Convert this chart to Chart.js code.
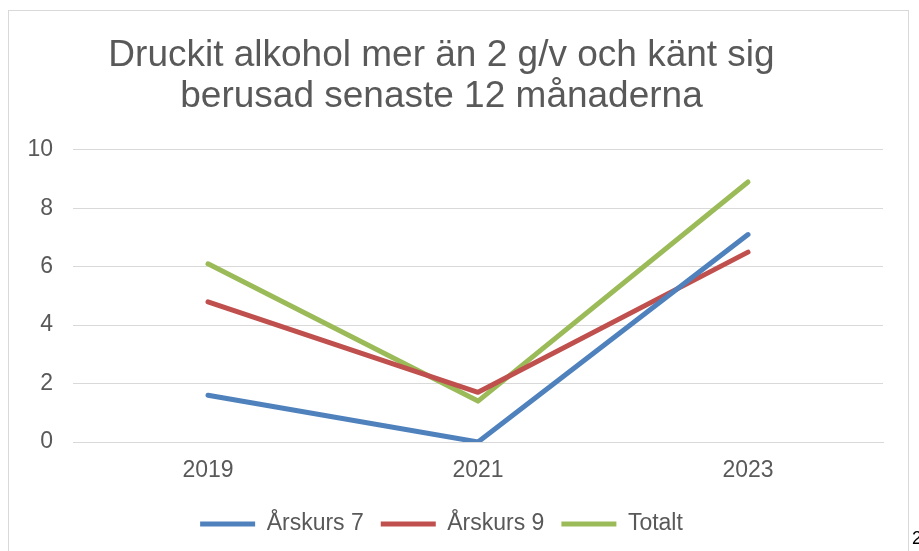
<!DOCTYPE html>
<html>
<head>
<meta charset="utf-8">
<script src="https://cdn.jsdelivr.net/npm/chart.js@4"></script>
<style>
  html, body { margin: 0; padding: 0; background: #fff; overflow: hidden; }
  body { width: 919px; height: 551px; position: relative; }
  .frame { position: absolute; left: 8px; top: 10px; width: 901px; height: 560px; border: 1px solid #d9d9d9; box-sizing: border-box; }
  .wrap { position: absolute; left: 0; top: 0; width: 919px; height: 551px; }
  .pageno { position: absolute; left: 912px; top: 528px; font: 18px "Liberation Sans", Arial, sans-serif; color: #000; }
</style>
</head>
<body>
<div class="frame"></div>
<div class="wrap"><canvas id="chart"></canvas></div>
<div class="pageno">2</div>
<script>
// Data
const years = ['2019', '2021', '2023'];
const arskurs7 = [1.6, 0, 7.1];
const arskurs9 = [4.8, 1.7, 6.5];
const totalt = [6.1, 1.4, 8.9];
const titleLines = ['Druckit alkohol mer än 2 g/v och känt sig', 'berusad senaste 12 månaderna'];

const textColor = '#595959';
const fontFamily = '"Liberation Sans", Arial, sans-serif';

function lineSet(label, data, color) {
    return {
        label: label,
        data: data,
        borderColor: color,
        backgroundColor: color,
        borderWidth: 5,
        borderCapStyle: 'round',
        borderJoinStyle: 'round',
        pointRadius: 0,
        pointHoverRadius: 0,
        tension: 0,
        fill: false
    };
}

document.addEventListener('DOMContentLoaded', function() {
    const ctx = document.getElementById('chart').getContext('2d');
    new Chart(ctx, {
        type: 'line',
        data: {
            labels: years,
            datasets: [
                lineSet('Årskurs 7', arskurs7, '#4f81bd'),
                lineSet('Årskurs 9', arskurs9, '#c0504d'),
                lineSet('Totalt', totalt, '#9bbb59')
            ]
        },
        options: {
            responsive: true,
            maintainAspectRatio: false,
            animation: false,
            layout: {
                padding: { left: 0, right: 36, top: 0, bottom: 5.5 }
            },
            plugins: {
                title: {
                    display: true,
                    text: titleLines,
                    color: textColor,
                    font: { family: fontFamily, size: 37, weight: 'normal', lineHeight: 1.12 },
                    padding: { top: 35, bottom: 32 }
                },
                legend: {
                    position: 'bottom',
                    labels: {
                        usePointStyle: true,
                        pointStyle: 'line',
                        pointStyleWidth: 55,
                        color: textColor,
                        font: { family: fontFamily, size: 23 },
                        padding: 17
                    }
                },
                tooltip: { enabled: false }
            },
            scales: {
                x: {
                    offset: true,
                    grid: { display: false, drawTicks: false },
                    border: { display: true, color: '#d9d9d9', width: 1 },
                    ticks: {
                        color: textColor,
                        font: { family: fontFamily, size: 23 },
                        padding: 15
                    },
                    afterFit: function(scale) { scale.height = 53.5; }
                },
                y: {
                    min: 0,
                    max: 10,
                    grid: { color: '#d9d9d9', drawTicks: false },
                    border: { display: false },
                    ticks: {
                        stepSize: 2,
                        color: textColor,
                        font: { family: fontFamily, size: 23 },
                        padding: 20
                    },
                    afterFit: function(scale) { scale.width = 73; }
                }
            }
        }
    });
});
</script>
</body>
</html>
